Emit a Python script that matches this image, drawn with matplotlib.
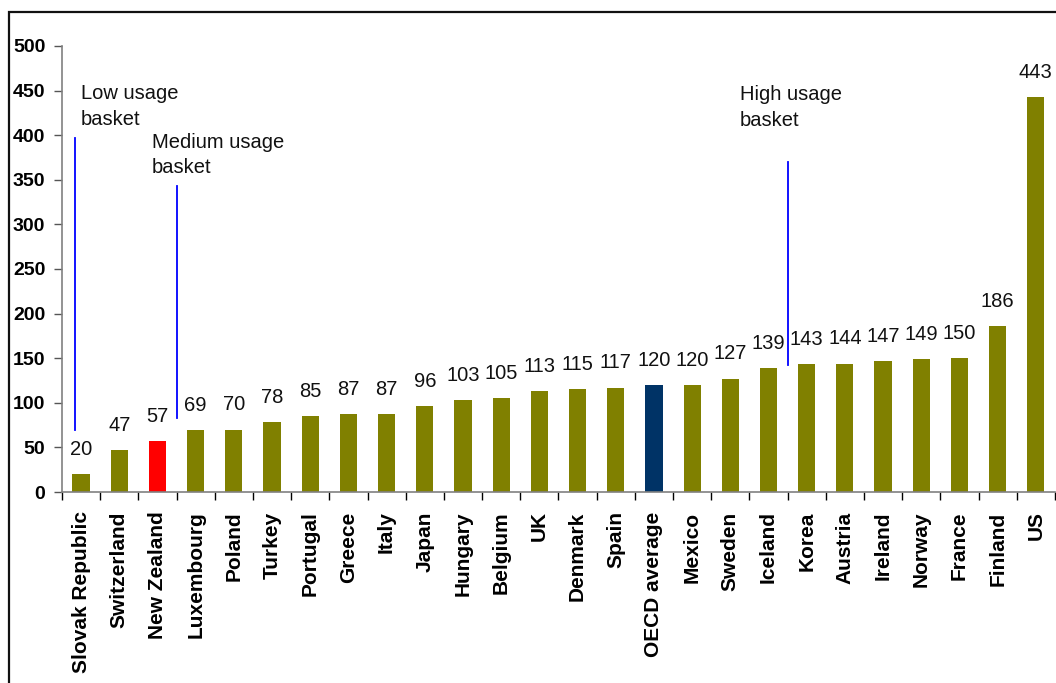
import matplotlib.pyplot as plt
from matplotlib.patches import Rectangle

plt.rcParams['font.family'] = ['Liberation Sans', 'DejaVu Sans']

# Basket cost by country
countries = ['Slovak Republic', 'Switzerland', 'New Zealand', 'Luxembourg', 'Poland',
             'Turkey', 'Portugal', 'Greece', 'Italy', 'Japan', 'Hungary', 'Belgium',
             'UK', 'Denmark', 'Spain', 'OECD average', 'Mexico', 'Sweden', 'Iceland',
             'Korea', 'Austria', 'Ireland', 'Norway', 'France', 'Finland', 'US']
values = [20, 47, 57, 69, 70, 78, 85, 87, 87, 96, 103, 105, 113, 115, 117, 120,
          120, 127, 139, 143, 144, 147, 149, 150, 186, 443]
highlight = {'New Zealand': '#ff0000', 'OECD average': '#003366'}

# basket markers: (label, x position, line bottom, line top, text x, text y)
baskets = [
    ('Low usage\nbasket', -0.15, 69, 397, 0.0, 457),
    ('Medium usage\nbasket', 2.5, 83, 343, 1.85, 403),
    ('High usage\nbasket', 18.5, 142, 370, 17.25, 456),
]

fig = plt.figure(figsize=(10.56, 6.83), dpi=100)
ax = fig.add_axes([0.0587, 0.2796, 0.9403, 0.6531])

colors = [highlight.get(c, '#808000') for c in countries]
x = list(range(len(countries)))
bars = ax.bar(x, values, width=0.45, color=colors, zorder=2)

for xi, v in zip(x, values):
    ax.annotate(str(v), (xi, v), xytext=(0, 11), textcoords='offset points',
                ha='center', va='bottom', fontsize=14.5, color='#111111')

for label, bx, lo, hi, tx, ty in baskets:
    ax.plot([bx, bx], [lo, hi], color='#0000ff', linewidth=1.3, zorder=3)
    ax.text(tx, ty, label, fontsize=14.5, va='top', ha='left', color='#111111',
            linespacing=1.45)

ax.set_xlim(-0.5, len(countries) - 0.5)
ax.set_ylim(0, 500)
ax.set_yticks(range(0, 501, 50))
ax.set_yticklabels([str(t) for t in range(0, 501, 50)], fontsize=14, fontweight='bold')
ax.set_xticks(x)
ax.set_xticklabels(countries, rotation=90, fontsize=15, fontweight='bold')
ax.set_xticks([i + 0.5 for i in range(-1, len(countries))], minor=True)
ax.tick_params(axis='x', which='major', length=0, pad=14)
ax.tick_params(axis='x', which='minor', length=6, width=1, color='black')
ax.tick_params(axis='y', length=6, width=1, color='#555555', pad=6)

for side in ('top', 'right'):
    ax.spines[side].set_visible(False)
for side in ('left', 'bottom'):
    ax.spines[side].set_color('#808080')
    ax.spines[side].set_linewidth(1.2)

# outer chart border
fig.patches.append(Rectangle((9 / 1056, -0.05), 1.1, 1 - 12 / 683 + 0.05,
                             transform=fig.transFigure, fill=False,
                             edgecolor='#111111', linewidth=1.6))

fig.savefig('out.png', dpi=100)
